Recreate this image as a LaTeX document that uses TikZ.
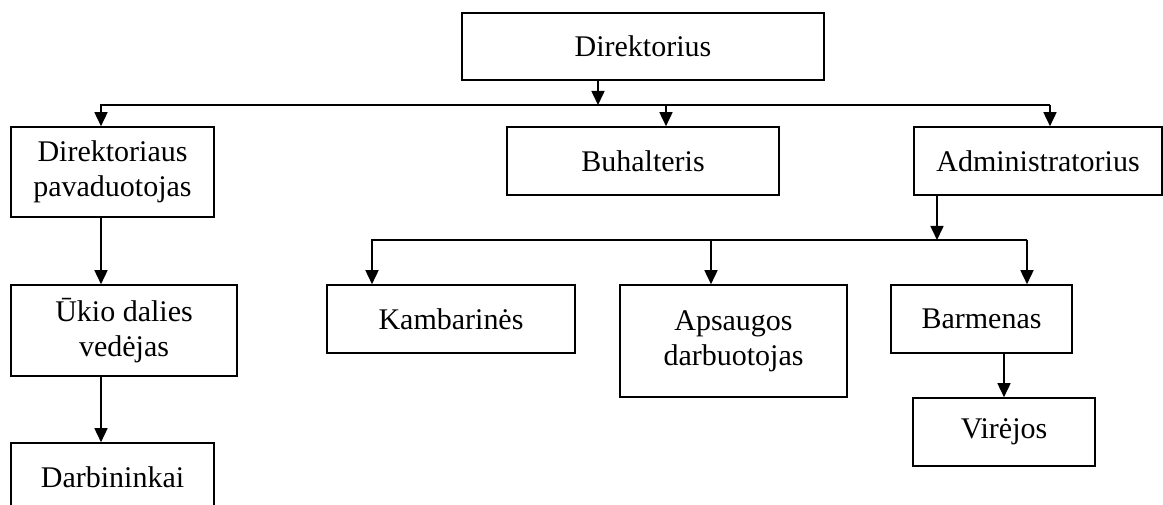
\documentclass[tikz,border=0pt]{standalone}
\usepackage{fontspec}
\setmainfont{Liberation Serif}
\usetikzlibrary{arrows.meta}

\tikzset{
  unit/.style={draw, line width=1.6pt, inner sep=0pt, align=center,
    font=\fontsize{30}{35}\selectfont},
  link/.style={line width=1.6pt, -{Triangle[length=14pt,width=13pt]}},
  wire/.style={line width=1.6pt}
}

\begin{document}
\begin{tikzpicture}[x=1pt, y=-1pt]
  \clip (0,0) rectangle (1163,505);
  \fill[white] (0,0) rectangle (1163,505);

  % top level
  \node[unit, minimum width=362pt, minimum height=67pt] (dir) at (643,46.5) {Direktorius};

  % second level
  \node[unit, minimum width=203pt, minimum height=90pt] (dep) at (112.5,172) {Direktoriaus\\pavaduotojas};
  \node[unit, minimum width=272pt, minimum height=68pt] (buh) at (643,161) {Buhalteris};
  \node[unit, minimum width=248pt, minimum height=68pt] (adm) at (1038,161) {Administratorius};

  % deputy branch
  \node[unit, minimum width=226pt, minimum height=91pt] (uk) at (124,330.5) {Ūkio dalies\\vedėjas};
  \node[unit, minimum width=203pt, minimum height=68pt] (darb) at (112.5,477) {Darbininkai};

  % administrator branch
  \node[unit, minimum width=248pt, minimum height=68pt] (kamb) at (451,319) {Kambarinės};
  \node[unit, minimum width=227pt, minimum height=112pt] (aps) at (733.5,341) {Apsaugos\\darbuotojas};
  \node[unit, minimum width=181pt, minimum height=68pt] (barm) at (981.5,319) {Barmenas};
  \node[unit, minimum width=182pt, minimum height=68pt] (vir) at (1004,432) {Virėjos};

  % bus under the director
  \coordinate (bL) at (101,105);
  \coordinate (bD) at (598,105);
  \coordinate (bB) at (666,105);
  \coordinate (bR) at (1050,105);
  \draw[link] (dir.south -| bD) -- (bD);
  \draw[link] (bR) -- (bL) -- (bL |- dep.north);
  \draw[link] (bB) -- (bB |- buh.north);
  \draw[link] (bR) -- (bR |- adm.north);

  % deputy chain
  \draw[link] (dep.south -| bL) -- (bL |- uk.north);
  \draw[link] (uk.south -| bL) -- (bL |- darb.north);

  % bus under the administrator
  \coordinate (aD) at (937,240);
  \coordinate (aK) at (372,240);
  \coordinate (aA) at (711,240);
  \coordinate (aB) at (1027,240);
  \draw[link] (adm.south -| aD) -- (aD);
  \draw[link] (aB) -- (aK) -- (aK |- kamb.north);
  \draw[link] (aA) -- (aA |- aps.north);
  \draw[link] (aB) -- (aB |- barm.north);

  % bartender to cooks
  \coordinate (vX) at (1004,0);
  \draw[link] (barm.south -| vX) -- (vX |- vir.north);
\end{tikzpicture}
\end{document}
